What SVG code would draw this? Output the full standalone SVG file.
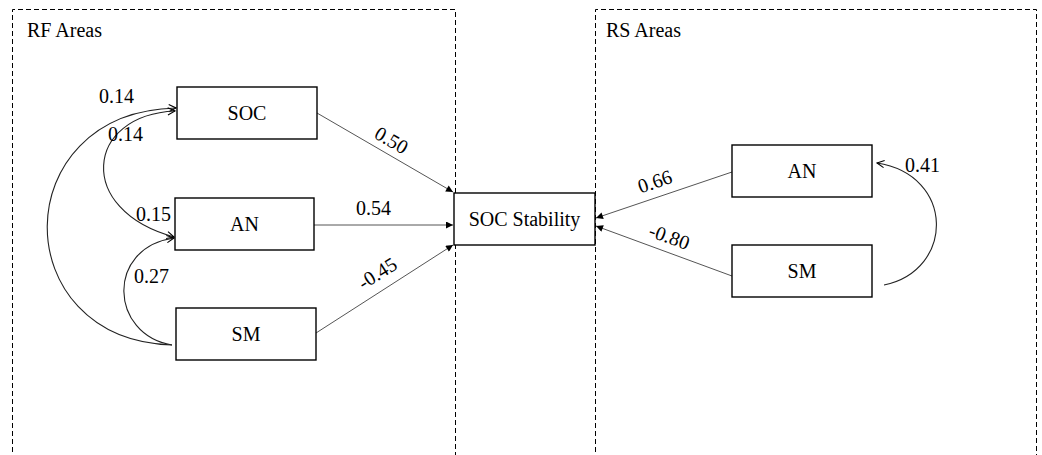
<svg xmlns="http://www.w3.org/2000/svg" width="1042" height="455" viewBox="0 0 1042 455">
<style>
text{font-family:"Liberation Serif","Times New Roman",serif;font-size:20px;fill:#000}
.lbl{text-anchor:middle}
.box{fill:#fff;stroke:#000;stroke-width:1.4}
.area{fill:none;stroke:#000;stroke-width:1;stroke-dasharray:5,3}
.ln{fill:none;stroke:#555;stroke-width:1}
.cv{fill:none;stroke:#222;stroke-width:1.1}
</style>
<defs>
<marker id="tri" viewBox="0 0 10 10" refX="10" refY="5" markerWidth="8" markerHeight="7" markerUnits="userSpaceOnUse" orient="auto">
<path d="M0,0 L10,5 L0,10 z" fill="#000"/>
</marker>
<marker id="open" viewBox="0 0 10 10" refX="9" refY="5" markerWidth="9" markerHeight="9" markerUnits="userSpaceOnUse" orient="auto-start-reverse">
<path d="M1,1 L9,5 L1,9" fill="none" stroke="#000" stroke-width="1.2"/>
</marker>
</defs>
<rect width="1042" height="455" fill="#fff"/>
<g id="areas">
<path class="area" d="M12.5,460 V9.5 H455.5 V460"/>
<path class="area" d="M595.5,460 V9.5 H1036.5 V460"/>
<text x="27" y="37">RF Areas</text>
<text x="606" y="37">RS Areas</text>
</g>
<g id="connectors">
<line class="ln" x1="317" y1="113" x2="453" y2="192" marker-end="url(#tri)"/>
<line class="ln" x1="314" y1="225" x2="453" y2="225" marker-end="url(#tri)"/>
<line class="ln" x1="316" y1="333" x2="453" y2="245" marker-end="url(#tri)"/>
<line class="ln" x1="732" y1="172" x2="596" y2="218" marker-end="url(#tri)"/>
<line class="ln" x1="732" y1="276" x2="596" y2="226" marker-end="url(#tri)"/>
<path class="cv" d="M172,345 C5,340 5,112 176,108" marker-end="url(#open)"/>
<path class="cv" d="M175,111 C85,115 75,210 174,237" marker-start="url(#open)" marker-end="url(#open)"/>
<path class="cv" d="M172,345 C110,335 105,248 174,238" marker-end="url(#open)"/>
<path class="cv" d="M884,285 C955,270 955,175 877,163" marker-end="url(#open)"/>
<text x="99" y="103">0.14</text>
<text x="108" y="141">0.14</text>
<text x="136" y="221">0.15</text>
<text x="134" y="283">0.27</text>
<text class="lbl" transform="translate(388,146) rotate(30.3)">0.50</text>
<text x="356" y="215">0.54</text>
<text class="lbl" transform="translate(381,279) rotate(-32.5)">-0.45</text>
<text class="lbl" transform="translate(657,188) rotate(-18.5)">0.66</text>
<text class="lbl" transform="translate(667,243) rotate(20)">-0.80</text>
<text x="905" y="172">0.41</text>
</g>
<g id="node-soc"><rect class="box" x="177" y="87" width="140" height="52"/><text class="lbl" x="247" y="120">SOC</text></g>
<g id="node-an-left"><rect class="box" x="175" y="198" width="139" height="52"/><text class="lbl" x="244.5" y="231">AN</text></g>
<g id="node-sm-left"><rect class="box" x="176" y="308" width="140" height="52"/><text class="lbl" x="246" y="341">SM</text></g>
<g id="node-soc-stability"><rect class="box" x="454" y="193" width="141" height="52"/><text class="lbl" x="524.5" y="226">SOC Stability</text></g>
<g id="node-an-right"><rect class="box" x="732" y="145" width="140" height="52"/><text class="lbl" x="802" y="178">AN</text></g>
<g id="node-sm-right"><rect class="box" x="732" y="245" width="140" height="52"/><text class="lbl" x="802" y="278">SM</text></g>
</svg>
